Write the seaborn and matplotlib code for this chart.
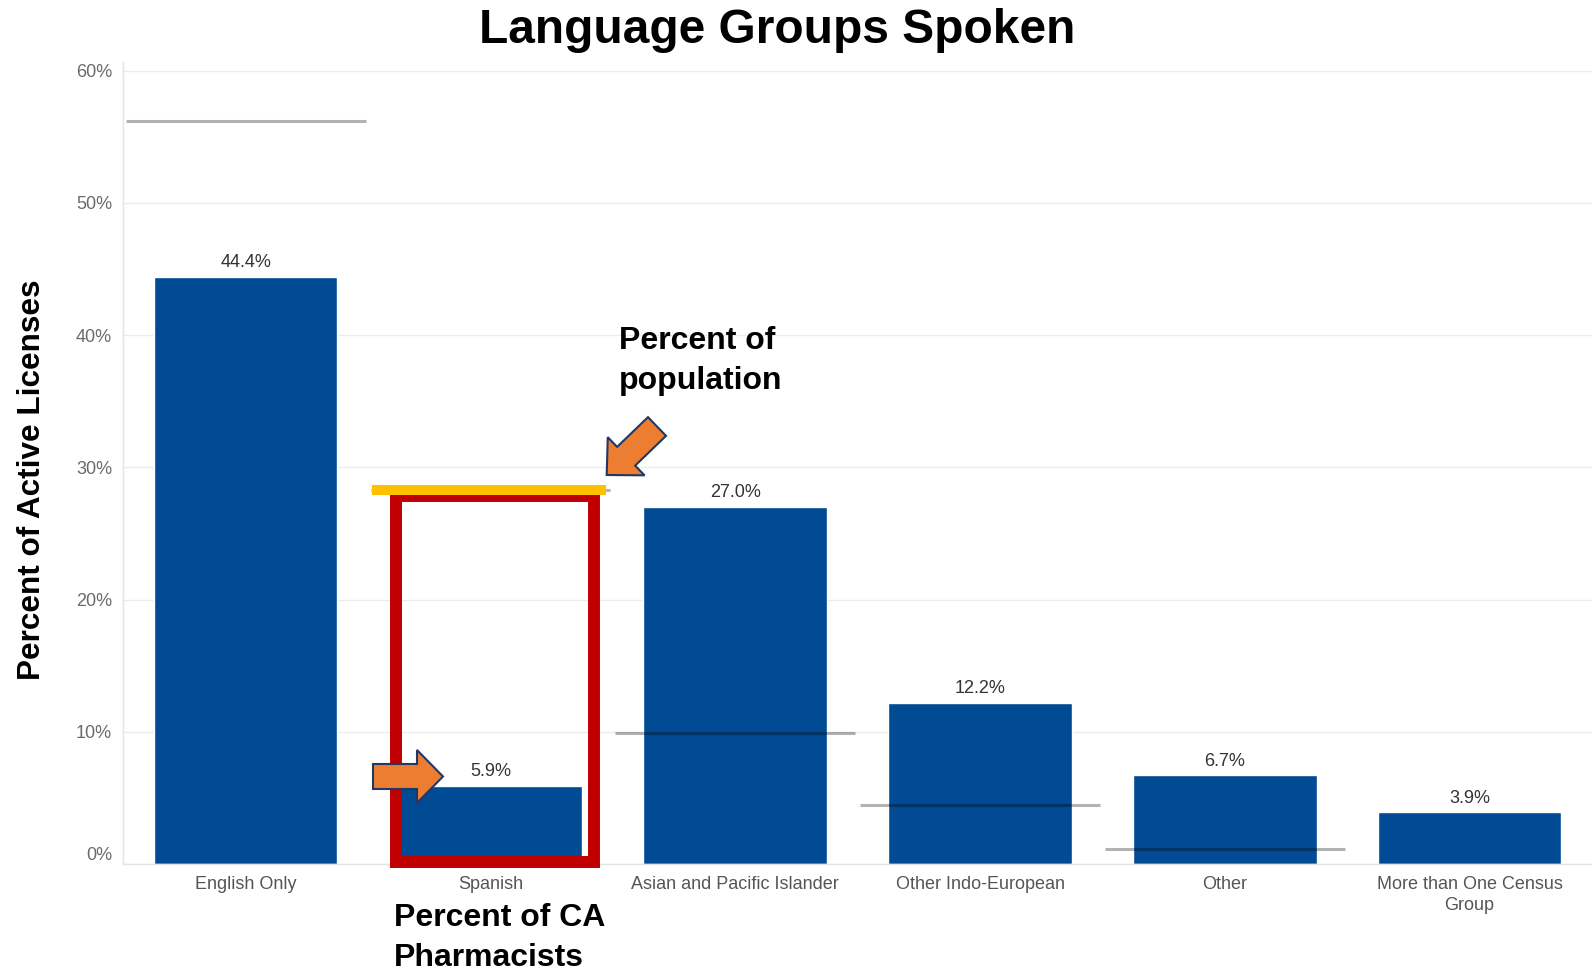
import matplotlib
matplotlib.use('Agg')
import matplotlib.pyplot as plt
import seaborn as sns
import pandas as pd
import numpy as np
from matplotlib.patches import Rectangle, FancyArrow

categories = ["English Only", "Spanish", "Asian and Pacific Islander",
              "Other Indo-European", "Other", "More than One Census\nGroup"]
pharmacist_pct = [44.4, 5.9, 27.0, 12.2, 6.7, 3.9]
population_pct = [56.2, 28.3, 9.9, 4.5, 1.1, None]
yticks = [0, 10, 20, 30, 40, 50, 60]
ytick_labels = [f"{t}%" for t in yticks]

sns.set_style('white')
plt.rcParams['font.family'] = ['Liberation Sans', 'DejaVu Sans']

W, H = 1592, 973
fig = plt.figure(figsize=(W / 100, H / 100), dpi=100)
left_px, bottom_px, top_px = 123.3, 864, 62
ax = fig.add_axes([left_px / W, 1 - bottom_px / H, 1 - left_px / W, (bottom_px - top_px) / H])

df = pd.DataFrame({'cat': categories, 'pct': pharmacist_pct})
sns.barplot(data=df, x='cat', y='pct', color='#004b93', width=0.75,
            saturation=1, ax=ax, zorder=2)

# value labels
for i, v in enumerate(pharmacist_pct):
    ax.annotate(f"{v:.1f}%", (i, v), xytext=(0, 4), textcoords='offset points',
                ha='center', va='bottom', fontsize=13, color='#333333', zorder=4)

# population reference lines
for i, p in enumerate(population_pct):
    if p is not None:
        ax.hlines(p, i - 0.49, i + 0.49, color='black', alpha=0.3, lw=2.2, zorder=3)

ax.set_xlim(-0.5, -0.5 + (W - left_px) / 245.5)
ax.set_ylim(0, 60.66)
ax.set_yticks(yticks)
ax.set_yticklabels(ytick_labels)
for lab in ax.get_yticklabels():
    if lab.get_text() == '0%':
        lab.set_verticalalignment('bottom')
ax.yaxis.grid(True, color='#ececec', lw=1)
ax.set_axisbelow(True)
ax.set_xlabel('')
ax.set_ylabel('')
for s in ['top', 'right']:
    ax.spines[s].set_visible(False)
for s in ['left', 'bottom']:
    ax.spines[s].set_color('#e4e4e4')
    ax.spines[s].set_linewidth(1)

ax.tick_params(axis='y', length=0, pad=8, labelsize=13, labelcolor='#6b6b6b')
ax.tick_params(axis='x', which='major', length=0, pad=8.5, labelsize=13, labelcolor='#555555')
for lab in ax.get_xticklabels():
    lab.set_linespacing(1.3)
ax.set_xticks(np.arange(-0.5, 6, 1), minor=True)
ax.tick_params(axis='x', which='minor', length=6, color='#e4e4e4', width=1)

# highlight annotations
ax.add_patch(Rectangle((0.615, 0.17), 1.423 - 0.615, 27.8 - 0.17, fill=False,
                       ec='#c00000', lw=8.6, joinstyle='miter', clip_on=False, zorder=5))
ax.hlines(population_pct[1], 0.516, 1.473, color='#ffc000', lw=7.2, zorder=6)


def px(x, y):
    return x / 100, (H - y) / 100


ax_tail = px(657, 426.5)
ax_tip = px(606.7, 475)
a1 = FancyArrow(ax_tail[0], ax_tail[1], ax_tip[0] - ax_tail[0], ax_tip[1] - ax_tail[1],
                width=0.26, head_width=0.53, head_length=0.27, length_includes_head=True,
                transform=fig.dpi_scale_trans, fc='#ed7d31', ec='#203864', lw=1.5, zorder=10)
fig.add_artist(a1)
b_tail = px(373, 776.5)
b_tip = px(443, 776.5)
a2 = FancyArrow(b_tail[0], b_tail[1], b_tip[0] - b_tail[0], 0,
                width=0.25, head_width=0.53, head_length=0.26, length_includes_head=True,
                transform=fig.dpi_scale_trans, fc='#ed7d31', ec='#203864', lw=1.5, zorder=10)
fig.add_artist(a2)

fig.text(619 / W, 1 - 361 / H, "Percent of\npopulation", ha='left', va='center',
         fontsize=23, fontweight='bold', linespacing=1.45, color='black')
fig.text(394 / W, 1 - 938 / H, "Percent of CA\nPharmacists", ha='left', va='center',
         fontsize=23, fontweight='bold', linespacing=1.4, color='black')

fig.text(777 / W, 1 - 30.5 / H, "Language Groups Spoken", ha='center', va='center',
         fontsize=34.5, fontweight='bold', color='black')
fig.text(32.5 / W, 1 - 480 / H, "Percent of Active Licenses", rotation=90,
         ha='center', va='center', fontsize=22.7, fontweight='bold', color='black')

fig.savefig('out.png', dpi=100)
